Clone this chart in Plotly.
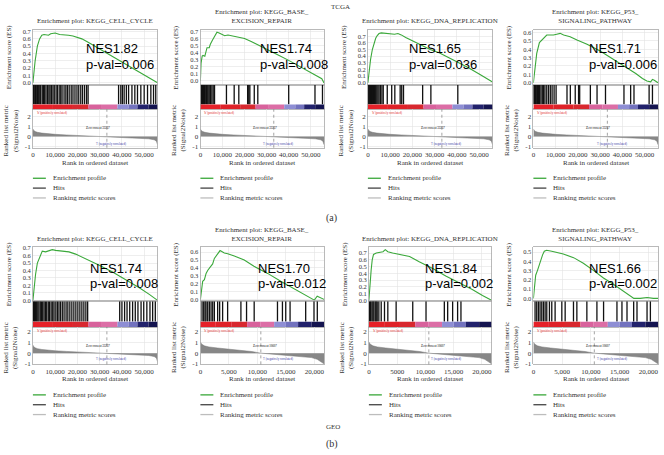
import plotly.graph_objects as go

W, H = 664, 455
SERIF = "Liberation Serif, Times New Roman, serif"
SANS = "Liberation Sans, Arial, sans-serif"

# ======================= DATA =======================
# ---- TCGA (rank axis 0 .. 56,000) ----
tcga_cc_rank = [0, 500, 1000, 1500, 2000, 3000, 4000, 5000, 6000, 7000, 8000, 9000, 10000, 12000, 14000,
                16000, 18000, 20000, 22000, 25000, 30000, 35000, 40000, 45000, 50000, 53000, 56000]
tcga_cc_es = [0, 0.18, 0.3, 0.4, 0.5, 0.6, 0.65, 0.66, 0.66, 0.65, 0.67, 0.68, 0.68, 0.66, 0.66,
              0.65, 0.64, 0.62, 0.6, 0.55, 0.46, 0.37, 0.28, 0.19, 0.1, 0.05, 0.0]
tcga_cc_hits = [200, 600, 1100, 1500, 2000, 2600, 3100, 3500, 4200, 4800, 5300, 5900, 6600, 7200, 7700,
                8300, 9000, 9600, 10400, 11000, 11800, 12500, 13100, 14000, 14800, 15500, 16300, 17200,
                18000, 18900, 19800, 20600, 21500, 22300, 23200, 24100, 24800, 38500, 39500, 40200,
                41000, 42000, 43000, 44500, 45800, 47000, 48500, 50000, 51500, 53000, 54200, 55200]

tcga_ber_rank = [0, 100, 300, 800, 1200, 2000, 2500, 3000, 4000, 4500, 5500, 6500, 7500, 8500, 10000,
                 11000, 12500, 14000, 16000, 18000, 20000, 23000, 26000, 30000, 35000, 40000, 45000,
                 50000, 53000, 55000, 56000]
tcga_ber_es = [0, 0.1, 0.25, 0.35, 0.36, 0.35, 0.42, 0.47, 0.47, 0.52, 0.58, 0.63, 0.69, 0.68, 0.66,
               0.64, 0.65, 0.64, 0.63, 0.62, 0.6, 0.56, 0.51, 0.45, 0.37, 0.29, 0.2, 0.11, 0.06, 0.03, -0.03]
tcga_ber_hits = [100, 400, 700, 1000, 1400, 1800, 2200, 2700, 3100, 3500, 4000, 4600, 5200, 5800, 6400,
                 11800, 15300, 17400, 21400, 21900, 22400, 24400, 26000, 40000, 51900, 55300]

tcga_dna_rank = [0, 600, 1200, 2000, 2700, 3500, 4200, 5000, 6000, 8000, 10000, 12000, 13500, 15000,
                 17000, 20000, 24000, 28000, 32000, 36000, 40000, 45000, 50000, 54000, 56000]
tcga_dna_es = [0, 0.2, 0.35, 0.5, 0.6, 0.67, 0.71, 0.74, 0.75, 0.74, 0.73, 0.73, 0.74, 0.72,
               0.68, 0.63, 0.56, 0.5, 0.45, 0.38, 0.32, 0.23, 0.13, 0.05, 0.01]
tcga_dna_hits = [100, 400, 800, 1200, 1600, 2000, 2500, 3000, 3500, 4000, 4500, 5000, 5600, 6300,
                 6900, 8700, 10700, 12100, 14500, 15200, 16000, 24600, 28300, 40400]

tcga_p53_rank = [0, 500, 800, 1500, 2700, 4500, 6000, 7500, 9000, 10500, 12000, 13600, 16500, 19600,
                 24100, 30000, 36000, 42000, 46000, 49000, 51000, 52700, 53500, 54300, 55500, 56000]
tcga_p53_es = [0, 0.1, 0.2, 0.35, 0.48, 0.53, 0.57, 0.57, 0.57, 0.58, 0.59, 0.57, 0.55, 0.51,
               0.46, 0.38, 0.28, 0.18, 0.11, 0.05, 0.02, 0.01, 0.04, 0.03, 0.01, 0.0]
tcga_p53_hits = [150, 500, 900, 1300, 1800, 2300, 2800, 3400, 4000, 4600, 5200, 6000, 6800, 7600, 8400,
                 9300, 10200, 15100, 16600, 18800, 20300, 20800, 25600, 28600, 32400, 40700, 43700,
                 45200, 52000, 53500]

tcga_metric_rank = [0, 300, 1000, 2000, 4000, 7000, 10000, 15000, 20000, 25000, 30000, 33237, 38000,
                    43000, 48000, 52000, 54500, 55500, 56000]
tcga_metric_val = [0.75, 0.62, 0.5, 0.42, 0.34, 0.27, 0.22, 0.16, 0.11, 0.07, 0.03, 0.0, -0.04,
                   -0.09, -0.15, -0.22, -0.32, -0.45, -0.8]

# ---- GEO ----
geo_cc_rank = [0, 600, 1200, 2000, 3500, 4200, 5700, 7200, 8700, 10200, 13200, 16200, 19200, 23700,
               29800, 35800, 41800, 47800, 52300, 56000]
geo_cc_es = [0, 0.2, 0.35, 0.5, 0.62, 0.66, 0.65, 0.66, 0.68, 0.67, 0.66, 0.65, 0.62, 0.56,
             0.47, 0.38, 0.28, 0.17, 0.08, 0.0]
geo_cc_hits = [300, 700, 1200, 1700, 2200, 2700, 3300, 3800, 4400, 5000, 5600, 6200, 6900, 7500, 8200,
               8900, 9500, 10300, 11000, 11700, 12400, 13200, 14000, 14900, 15700, 16600, 17500,
               18400, 19300, 20200, 21100, 22000, 22900, 23800, 24600, 39000, 40000, 41200, 42300,
               43500, 44800, 46000, 47200, 48600, 49800, 51200, 52600, 53800, 55000]

geo_ber_rank = [0, 230, 400, 700, 1000, 1300, 1750, 2150, 2450, 2750, 3000, 3450, 4200, 4800, 5950,
                7700, 9400, 11800, 14100, 16400, 18200, 19600, 20000, 20500, 21100, 21700]
geo_ber_es = [0, 0.1, 0.23, 0.25, 0.33, 0.37, 0.42, 0.45, 0.52, 0.55, 0.57, 0.62, 0.59, 0.58, 0.55,
              0.5, 0.42, 0.33, 0.23, 0.14, 0.07, 0.01, -0.01, 0.04, 0.02, 0.0]
geo_ber_hits = [290, 580, 820, 990, 1280, 1570, 1870, 2160, 2450, 3030, 3380, 3900, 4780, 7110, 8100,
                9440, 13530, 14400, 14980, 15740, 18480, 19940, 20520]

geo_dna_rank = [0, 180, 400, 590, 820, 1300, 1900, 2500, 2900, 3350, 4200, 5400, 7200, 8900, 11300,
                13600, 16000, 18300, 20100, 21700]
geo_dna_es = [0, 0.25, 0.45, 0.6, 0.68, 0.7, 0.71, 0.72, 0.75, 0.72, 0.7, 0.68, 0.65, 0.57, 0.47,
              0.36, 0.26, 0.16, 0.07, 0.0]
geo_dna_hits = [120, 290, 530, 710, 880, 1120, 1290, 1470, 1760, 2180, 2760, 3350, 4820, 7760, 10110,
                13350, 13940, 14820, 15700, 16290]

geo_p53_rank = [0, 170, 400, 700, 1050, 1300, 1600, 1900, 2300, 3200, 4100, 5200, 7000, 8700, 10500,
                12200, 14000, 15700, 16900, 17500, 18600, 19800, 20900, 21700]
geo_p53_es = [0, 0.15, 0.25, 0.3, 0.37, 0.4, 0.47, 0.51, 0.52, 0.51, 0.5, 0.48, 0.44, 0.38, 0.3,
              0.22, 0.15, 0.08, 0.03, 0.0, 0.0, 0.01, 0.0, 0.0]
geo_p53_hits = [290, 580, 870, 1160, 1460, 1750, 2040, 2330, 2790, 3200, 3780, 4950, 5530, 6980, 7570,
                9310, 11060, 12220, 14550, 15420, 16300, 17460, 18040, 19790, 20370]

geo_metric_rank = [0, 200, 700, 1500, 3000, 5000, 7000, 9000, 10607, 12500, 15000, 17500, 19500,
                   20500, 21200, 21700]
geo_metric_val = [1.05, 0.85, 0.68, 0.58, 0.48, 0.38, 0.28, 0.15, 0.0, -0.1, -0.2, -0.3, -0.42,
                  -0.58, -0.8, -1.0]

# ---- labels ----
gene_sets = ["KEGG_CELL_CYCLE", "KEGG_BASE_<br>EXCISION_REPAIR", "KEGG_DNA_REPLICATION",
             "KEGG_P53_<br>SIGNALING_PATHWAY"]
nes_values = ["1.82", "1.74", "1.65", "1.71", "1.74", "1.70", "1.84", "1.66"]
p_values = ["0.006", "0.008", "0.036", "0.006", "0.008", "0.012", "0.002", "0.002"]
zero_cross = [33237, 33237, 33237, 33237, 33237, 10607, 10607, 10607]

tcga_xticks = [0, 10000, 20000, 30000, 40000, 50000]
tcga_xlabels = ["0", "10,000", "20,000", "30,000", "40,000", "50,000"]
geo_xticks = [0, 5000, 10000, 15000, 20000]
geo_xlabels = ["0", "5,000", "10,000", "15,000", "20,000"]
geo_xlabels_b = ["0", "5000", "10,000", "15,000", "20,000"]
metric_ticks = [-1, 0, 1, 2]
es_ticks_07 = [0.0, 0.1, 0.2, 0.3, 0.4, 0.5, 0.6, 0.7]
es_ticks_06 = [0.0, 0.1, 0.2, 0.3, 0.4, 0.5, 0.6]
es_ticks_05 = [0.0, 0.1, 0.2, 0.3, 0.4, 0.5]

# colour bar (red -> pink -> blue -> navy)
tcga_bar_edges = [0, 9000, 18000, 25000, 31000, 38000, 43000, 47000, 52000, 56000]
geo_bar_edges = [0, 2700, 5500, 8200, 10500, 12950, 15000, 17150, 19500, 21700]
bar_colors = ['#e62129', '#df2229', '#d8282f', '#d8629c', '#dc6ea6', '#8e8ed4', '#7272be',
              '#22226c', '#141450']

# ======================= PANELS =======================
panels = [
    dict(r=tcga_cc_rank, es=tcga_cc_es, hits=tcga_cc_hits, mr=tcga_metric_rank, mv=tcga_metric_val,
         xmax=56000, xt=tcga_xticks, xl=tcga_xlabels, et=es_ticks_07, er=(-0.027, 0.727), edges=tcga_bar_edges),
    dict(r=tcga_ber_rank, es=tcga_ber_es, hits=tcga_ber_hits, mr=tcga_metric_rank, mv=tcga_metric_val,
         xmax=56000, xt=tcga_xticks, xl=tcga_xlabels, et=es_ticks_07, er=(-0.056, 0.728), edges=tcga_bar_edges),
    dict(r=tcga_dna_rank, es=tcga_dna_es, hits=tcga_dna_hits, mr=tcga_metric_rank, mv=tcga_metric_val,
         xmax=56000, xt=tcga_xticks, xl=tcga_xlabels, et=es_ticks_07, er=(-0.03, 0.80), edges=tcga_bar_edges),
    dict(r=tcga_p53_rank, es=tcga_p53_es, hits=tcga_p53_hits, mr=tcga_metric_rank, mv=tcga_metric_val,
         xmax=56000, xt=tcga_xticks, xl=tcga_xlabels, et=es_ticks_06, er=(-0.024, 0.635), edges=tcga_bar_edges),
    dict(r=geo_cc_rank, es=geo_cc_es, hits=geo_cc_hits, mr=tcga_metric_rank, mv=tcga_metric_val,
         xmax=56000, xt=tcga_xticks, xl=tcga_xlabels, et=es_ticks_07, er=(-0.013, 0.713), edges=tcga_bar_edges),
    dict(r=geo_ber_rank, es=geo_ber_es, hits=geo_ber_hits, mr=geo_metric_rank, mv=geo_metric_val,
         xmax=21700, xt=geo_xticks, xl=geo_xlabels, et=es_ticks_06, er=(-0.025, 0.663), edges=geo_bar_edges),
    dict(r=geo_dna_rank, es=geo_dna_es, hits=geo_dna_hits, mr=geo_metric_rank, mv=geo_metric_val,
         xmax=21700, xt=geo_xticks, xl=geo_xlabels_b, et=es_ticks_07, er=(-0.015, 0.787), edges=geo_bar_edges),
    dict(r=geo_p53_rank, es=geo_p53_es, hits=geo_p53_hits, mr=geo_metric_rank, mv=geo_metric_val,
         xmax=21700, xt=geo_xticks, xl=geo_xlabels, et=es_ticks_05, er=(-0.032, 0.553), edges=geo_bar_edges),
]

# pixel geometry
cols = [[(31, 156), (199, 323), (367, 492), (533, 658)],
        [(31, 156), (199, 323), (368, 491), (533, 658)]]
rows = [dict(es=(27, 83), hits=(83, 108), rk=(108, 147), rkr=(-1.1, 2.68), title_b=24, xlab=163,
             leg=(178, 188, 198), nes=46, pv=62, h=112, zc=127, lab_l=143),
        dict(es=(248, 303), hits=(303, 329), rk=(329, 367), rkr=(-1.05, 2.45), title_b=246, xlab=382,
             leg=(398, 408, 418), nes=270, pv=285, h=333, zc=348, lab_l=362)]
nes_off = [51, 58, 39, 54, 55, 56, 54, 54]


def fx(px):
    return px / W


def fy(py):
    return 1 - py / H


fig = go.Figure()
layout = dict(width=W, height=H, margin=dict(l=0, r=0, t=0, b=0), autosize=False,
              paper_bgcolor='white', plot_bgcolor='white', showlegend=False)
shapes, annos = [], []
GRID = '#e3e3e3'
LINE = '#a8a8a8'
TICKF = dict(family=SERIF, size=6.5, color='#333')


def axname(kind, n):
    return kind + 'axis' + ('' if n == 1 else str(n))


def ref(kind, n):
    return kind + ('' if n == 1 else str(n))


for p, pan in enumerate(panels):
    ri, ci = p // 4, p % 4
    row = rows[ri]
    l, rgt = cols[ri][ci]
    xdom = [fx(l), fx(rgt)]
    xr = [0, pan['xmax']]
    n_es, n_hit, n_rk = 3 * p + 1, 3 * p + 2, 3 * p + 3

    # --- ES axes
    layout[axname('x', n_es)] = dict(domain=xdom, range=xr, anchor=ref('y', n_es), showticklabels=False,
                                     ticks='', tickvals=pan['xt'], showgrid=True, gridcolor=GRID, gridwidth=0.6,
                                     showline=True, linecolor=LINE, linewidth=0.8, mirror=True, zeroline=False)
    layout[axname('y', n_es)] = dict(domain=[fy(row['es'][1]), fy(row['es'][0])], range=list(pan['er']),
                                     anchor=ref('x', n_es), tickvals=pan['et'],
                                     ticktext=['%.1f' % v for v in pan['et']], tickfont=TICKF, ticks='',
                                     showgrid=True, gridcolor=GRID, gridwidth=0.6, showline=True, linecolor=LINE,
                                     linewidth=0.8, mirror=True, zeroline=False)
    # --- hits axes
    layout[axname('x', n_hit)] = dict(domain=xdom, range=xr, anchor=ref('y', n_hit), showticklabels=False,
                                      ticks='', showgrid=False, showline=True, linecolor=LINE, linewidth=0.8,
                                      mirror=True, zeroline=False)
    layout[axname('y', n_hit)] = dict(domain=[fy(row['hits'][1]), fy(row['hits'][0])], range=[0, 1],
                                      anchor=ref('x', n_hit), showticklabels=False, ticks='', showgrid=False,
                                      showline=True, linecolor=LINE, linewidth=0.8, mirror=True, zeroline=False)
    # --- ranked metric axes
    layout[axname('x', n_rk)] = dict(domain=xdom, range=xr, anchor=ref('y', n_rk), tickvals=pan['xt'],
                                     ticktext=pan['xl'], tickfont=dict(family=SERIF, size=7, color='#333'),
                                     ticks='', showgrid=True, gridcolor=GRID, gridwidth=0.6, showline=True,
                                     linecolor=LINE, linewidth=0.8, mirror=True, zeroline=False)
    layout[axname('y', n_rk)] = dict(domain=[fy(row['rk'][1]), fy(row['rk'][0])], range=list(row['rkr']),
                                     anchor=ref('x', n_rk), tickvals=metric_ticks,
                                     ticktext=[str(v) for v in metric_ticks],
                                     tickfont=dict(family=SERIF, size=7, color='#333'), ticks='',
                                     showgrid=True, gridcolor=GRID, gridwidth=0.6, showline=True, linecolor=LINE,
                                     linewidth=0.8, mirror=True, zeroline=False)

    # --- traces
    fig.add_trace(go.Scatter(x=pan['mr'], y=pan['mv'], mode='lines', fill='tozeroy', fillcolor='#878787',
                             line=dict(color='#777777', width=0.5), xaxis=ref('x', n_rk), yaxis=ref('y', n_rk),
                             hoverinfo='skip'))
    hx, hy = [], []
    for h in pan['hits']:
        hx += [h, h, None]
        hy += [0.21, 1, None]
    fig.add_trace(go.Scatter(x=hx, y=hy, mode='lines', line=dict(color='#111111', width=1.3),
                             xaxis=ref('x', n_hit), yaxis=ref('y', n_hit), hoverinfo='skip'))
    fig.add_trace(go.Scatter(x=pan['r'], y=pan['es'], mode='lines', line=dict(color='#3aa83a', width=1.1),
                             xaxis=ref('x', n_es), yaxis=ref('y', n_es), hoverinfo='skip'))

    # --- colour bar
    e = pan['edges']
    for i in range(len(e) - 1):
        shapes.append(dict(type='rect', xref=ref('x', n_hit), yref=ref('y', n_hit), x0=e[i], x1=e[i + 1],
                           y0=0, y1=0.2, fillcolor=bar_colors[i], line=dict(width=0), layer='above'))
    # zero-cross dashed line
    shapes.append(dict(type='line', xref=ref('x', n_rk), yref=ref('y', n_rk) + ' domain', x0=zero_cross[p],
                       x1=zero_cross[p], y0=0, y1=1, line=dict(color='#666', width=0.6, dash='dot')))

    # --- texts
    cx = (l + rgt) / 2
    annos.append(dict(text='Enrichment plot: ' + gene_sets[ci], x=fx(cx), y=fy(row['title_b']),
                      xref='paper', yref='paper', xanchor='center', yanchor='bottom', showarrow=False,
                      font=dict(family=SERIF, size=7, color='#333')))
    annos.append(dict(text='Enrichment score (ES)', x=fx(l - 24), y=fy(sum(row['es']) / 2), textangle=-90,
                      xref='paper', yref='paper', xanchor='center', yanchor='middle', showarrow=False,
                      font=dict(family=SERIF, size=7, color='#333')))
    annos.append(dict(text='Ranked list metric<br>(Signal2Noise)', x=fx(l - 22), y=fy(sum(row['rk']) / 2 + 2),
                      textangle=-90, xref='paper', yref='paper', xanchor='center', yanchor='middle',
                      showarrow=False, font=dict(family=SERIF, size=7, color='#333')))
    annos.append(dict(text='Rank in ordered dataset', x=fx(cx), y=fy(row['xlab']), xref='paper', yref='paper',
                      xanchor='center', yanchor='middle', showarrow=False,
                      font=dict(family=SERIF, size=7, color='#333')))
    annos.append(dict(text='NES' + nes_values[p], x=fx(l + nes_off[p]), y=fy(row['nes']), xref='paper',
                      yref='paper', xanchor='left', yanchor='middle', showarrow=False,
                      font=dict(family=SANS, size=13, color='black')))
    annos.append(dict(text='p-val=' + p_values[p], x=fx(l + nes_off[p]), y=fy(row['pv']), xref='paper',
                      yref='paper', xanchor='left', yanchor='middle', showarrow=False,
                      font=dict(family=SANS, size=13, color='black')))
    annos.append(dict(text="'h' (positively correlated)", x=fx(l + 2), y=fy(row['h']), xref='paper',
                      yref='paper', xanchor='left', yanchor='middle', showarrow=False,
                      font=dict(family=SERIF, size=3, color='#e02020')))
    annos.append(dict(text='Zero cross at %d' % zero_cross[p], x=fx(l + 0.52 * (rgt - l)), y=fy(row['zc']),
                      xref='paper', yref='paper', xanchor='center', yanchor='middle', showarrow=False,
                      font=dict(family=SERIF, size=3, color='black')))
    annos.append(dict(text="'l' (negatively correlated)", x=fx(l + 0.63 * (rgt - l)), y=fy(row['lab_l']),
                      xref='paper', yref='paper', xanchor='center', yanchor='middle', showarrow=False,
                      font=dict(family=SERIF, size=3, color='#3030a0')))
    # legend
    for k, (lab, col) in enumerate([('Enrichment profile', '#3aa83a'), ('Hits', '#444444'),
                                    ('Ranking metric scores', '#bdbdbd')]):
        yy = fy(row['leg'][k])
        shapes.append(dict(type='line', xref='paper', yref='paper', x0=fx(l), x1=fx(l + 13), y0=yy, y1=yy,
                           line=dict(color=col, width=1.3)))
        annos.append(dict(text=lab, x=fx(l + 18), y=yy, xref='paper', yref='paper', xanchor='left',
                          yanchor='middle', showarrow=False, font=dict(family=SERIF, size=7, color='#333')))

# group labels
for txt, px, py, sz in [('TCGA', 340, 4, 7), ('(a)', 330, 218, 10), ('GEO', 332, 431, 7), ('(b)', 331, 448, 10)]:
    annos.append(dict(text=txt, x=fx(px), y=fy(py), xref='paper', yref='paper', xanchor='center',
                      yanchor='middle', showarrow=False, font=dict(family=SERIF, size=sz, color='#333')))

layout['shapes'] = shapes
layout['annotations'] = annos
fig.update_layout(**layout)
fig.write_html("out.html", config={'displayModeBar': False, 'staticPlot': True},
               post_script="document.body.style.margin='0';document.body.style.overflow='hidden';")
